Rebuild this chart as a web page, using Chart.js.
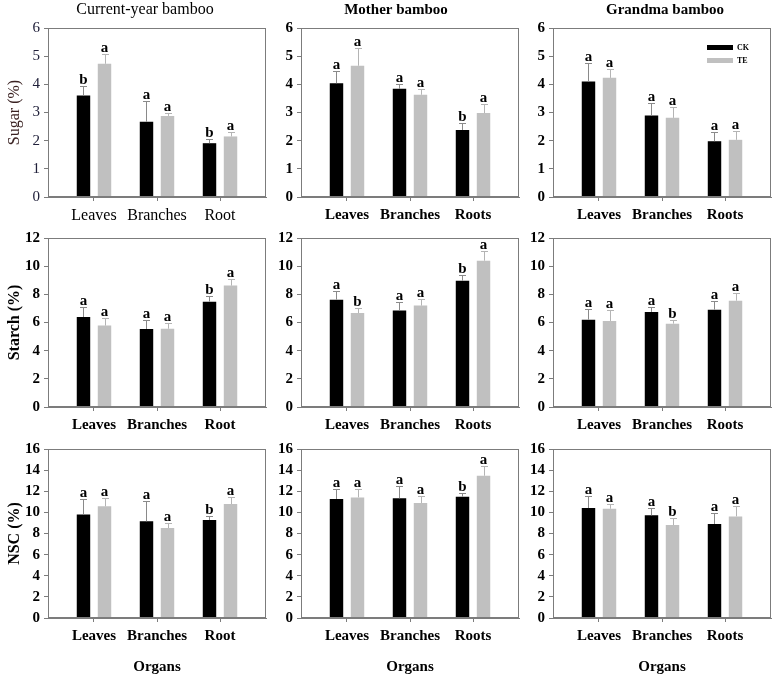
<!DOCTYPE html>
<html><head><meta charset="utf-8">
<script src="https://cdn.jsdelivr.net/npm/chart.js@4"></script>
<style>
html,body{margin:0;padding:0;background:#fff;}
#wrap{position:relative;width:774px;height:678px;overflow:hidden;background:#fff;}
#wrap canvas{position:absolute;}
</style></head><body><div id="wrap"></div>
<script>
// ---------- data ----------
const organsRoots = ['Leaves','Branches','Roots'];
const organsRoot = ['Leaves','Branches','Root'];
const seriesNames = ['CK','TE'];
const groupTitles = ['Current-year bamboo','Mother bamboo','Grandma bamboo'];
const rowTitles = ['Sugar (%)','Starch (%)','NSC (%)'];
const xTitle = 'Organs';
const yMax = [6, 12, 16];
const yStep = [1, 2, 2];

// Sugar
const sugarCurrentCK = [3.60, 2.67, 1.91], sugarCurrentCKse = [0.34, 0.75, 0.14], sugarCurrentCKsig = ['b','a','b'];
const sugarCurrentTE = [4.73, 2.88, 2.15], sugarCurrentTEse = [0.36, 0.12, 0.16], sugarCurrentTEsig = ['a','a','a'];
const sugarMotherCK = [4.04, 3.84, 2.38], sugarMotherCKse = [0.45, 0.18, 0.26], sugarMotherCKsig = ['a','a','b'];
const sugarMotherTE = [4.66, 3.63, 2.98], sugarMotherTEse = [0.63, 0.20, 0.32], sugarMotherTEsig = ['a','a','a'];
const sugarGrandCK = [4.10, 2.89, 1.98], sugarGrandCKse = [0.66, 0.44, 0.34], sugarGrandCKsig = ['a','a','a'];
const sugarGrandTE = [4.23, 2.81, 2.03], sugarGrandTEse = [0.31, 0.40, 0.33], sugarGrandTEsig = ['a','a','a'];
// Starch
const starchCurrentCK = [6.39, 5.54, 7.48], starchCurrentCKse = [0.71, 0.66, 0.40], starchCurrentCKsig = ['a','a','b'];
const starchCurrentTE = [5.78, 5.56, 8.62], starchCurrentTEse = [0.54, 0.40, 0.47], starchCurrentTEsig = ['a','a','a'];
const starchMotherCK = [7.62, 6.86, 8.97], starchMotherCKse = [0.64, 0.60, 0.43], starchMotherCKsig = ['a','a','b'];
const starchMotherTE = [6.67, 7.20, 10.39], starchMotherTEse = [0.36, 0.47, 0.71], starchMotherTEsig = ['b','a','a'];
const starchGrandCK = [6.20, 6.75, 6.91], starchGrandCKse = [0.76, 0.35, 0.64], starchGrandCKsig = ['a','a','a'];
const starchGrandTE = [6.11, 5.92, 7.55], starchGrandTEse = [0.75, 0.28, 0.54], starchGrandTEsig = ['a','b','a'];
// NSC
const nscCurrentCK = [9.81, 9.15, 9.28], nscCurrentCKse = [1.46, 1.89, 0.41], nscCurrentCKsig = ['a','a','b'];
const nscCurrentTE = [10.57, 8.52, 10.79], nscCurrentTEse = [0.79, 0.47, 0.66], nscCurrentTEsig = ['a','a','a'];
const nscMotherCK = [11.27, 11.33, 11.49], nscMotherCKse = [0.94, 1.20, 0.34], nscMotherCKsig = ['a','a','b'];
const nscMotherTE = [11.42, 10.89, 13.47], nscMotherTEse = [0.79, 0.69, 0.95], nscMotherTEsig = ['a','a','a'];
const nscGrandCK = [10.41, 9.72, 8.90], nscGrandCKse = [1.11, 0.69, 1.04], nscGrandCKsig = ['a','a','a'];
const nscGrandTE = [10.35, 8.80, 9.62], nscGrandTEse = [0.47, 0.67, 0.95], nscGrandTEsig = ['a','b','a'];

// ---------- layout / style ----------
const FONT = "'Liberation Serif', 'Times New Roman', serif";
const AXIS = '#7c7c7c';
const COLORS = ['#000000', '#c0c0c0'];
const ERRCOLORS = ['#8a8a8a', '#b4b4b4'];
const COL_LEFT = [0, 253, 505];
const ROW_TOP = [0, 210, 421];
const TITLE_DX = [97, 95, 112];

const panels = [
  [[sugarCurrentCK,sugarCurrentCKse,sugarCurrentCKsig,sugarCurrentTE,sugarCurrentTEse,sugarCurrentTEsig,organsRoot],
   [sugarMotherCK,sugarMotherCKse,sugarMotherCKsig,sugarMotherTE,sugarMotherTEse,sugarMotherTEsig,organsRoots],
   [sugarGrandCK,sugarGrandCKse,sugarGrandCKsig,sugarGrandTE,sugarGrandTEse,sugarGrandTEsig,organsRoots]],
  [[starchCurrentCK,starchCurrentCKse,starchCurrentCKsig,starchCurrentTE,starchCurrentTEse,starchCurrentTEsig,organsRoot],
   [starchMotherCK,starchMotherCKse,starchMotherCKsig,starchMotherTE,starchMotherTEse,starchMotherTEsig,organsRoots],
   [starchGrandCK,starchGrandCKse,starchGrandCKsig,starchGrandTE,starchGrandTEse,starchGrandTEsig,organsRoots]],
  [[nscCurrentCK,nscCurrentCKse,nscCurrentCKsig,nscCurrentTE,nscCurrentTEse,nscCurrentTEsig,organsRoot],
   [nscMotherCK,nscMotherCKse,nscMotherCKsig,nscMotherTE,nscMotherTEse,nscMotherTEsig,organsRoots],
   [nscGrandCK,nscGrandCKse,nscGrandCKsig,nscGrandTE,nscGrandTEse,nscGrandTEsig,organsRoots]]
];

const panelPlugin = {
  id: 'panelExtras',
  afterDatasetsDraw(chart) {
    const ctx = chart.ctx, ys = chart.scales.y;
    chart.data.datasets.forEach((ds, di) => {
      const meta = chart.getDatasetMeta(di);
      meta.data.forEach((bar, i) => {
        const v = ds.data[i].y, e = ds.err[i];
        const top = Math.round(ys.getPixelForValue(v + e)) + 0.5;
        const x = Math.round(bar.x) + 0.5;
        ctx.save();
        ctx.strokeStyle = ds.errColor; ctx.lineWidth = 1;
        ctx.beginPath();
        ctx.moveTo(x, bar.y); ctx.lineTo(x, top);
        ctx.moveTo(x - 3.5, top); ctx.lineTo(x + 3.5, top);
        ctx.stroke();
        ctx.fillStyle = '#000';
        ctx.font = 'bold 15px ' + FONT;
        ctx.textAlign = 'center'; ctx.textBaseline = 'alphabetic';
        ctx.fillText(ds.sig[i], bar.x, top - 3);
        ctx.restore();
      });
    });
  },
  afterDraw(chart, args, opts) {
    const ctx = chart.ctx, a = chart.chartArea;
    ctx.save();
    ctx.strokeStyle = AXIS; ctx.lineWidth = 1;
    ctx.strokeRect(Math.round(a.left) + 0.5, Math.round(a.top) + 0.5, Math.round(a.right - a.left) - 1, Math.round(a.bottom - a.top) - 1);
    if (opts.title) {
      ctx.fillStyle = '#000';
      ctx.font = (opts.weight === 'bold' ? 'bold 15px ' : '16px ') + FONT;
      ctx.textAlign = 'center'; ctx.textBaseline = 'middle';
      ctx.fillText(opts.title, a.left + opts.dx, a.top - 18);
    }
    if (opts.legend) {
      chart.data.datasets.forEach((ds, di) => {
        const y0 = a.top + 17 + di * 13;
        ctx.fillStyle = ds.backgroundColor;
        ctx.fillRect(a.right - 64, y0, 26, 5);
        ctx.fillStyle = '#000';
        ctx.font = 'bold 8px ' + FONT;
        ctx.textAlign = 'left'; ctx.textBaseline = 'middle';
        ctx.fillText(ds.label, a.right - 34, y0 + 3);
      });
    }
    ctx.restore();
  }
};

const wrap = document.getElementById('wrap');
for (let r = 0; r < 3; r++) {
  for (let c = 0; c < 3; c++) {
    const p = panels[r][c];
    const plain = (r === 0 && c === 0);
    const weight = plain ? 'normal' : 'bold';
    const xh = r === 2 ? 58 : 30;
    const W = 270, H = 28 + 169 + xh;
    const canvas = document.createElement('canvas');
    canvas.width = W; canvas.height = H;
    canvas.style.left = COL_LEFT[c] + 'px';
    canvas.style.top = ROW_TOP[r] + 'px';
    canvas.style.width = W + 'px'; canvas.style.height = H + 'px';
    wrap.appendChild(canvas);
    const labels = p[6];
    new Chart(canvas, {
      type: 'bar',
      data: {
        datasets: [0, 1].map(s => ({
          label: seriesNames[s],
          data: p[s * 3].map((v, i) => ({ x: i + 1, y: v })),
          err: p[s * 3 + 1],
          sig: p[s * 3 + 2],
          backgroundColor: COLORS[s],
          errColor: ERRCOLORS[s],
          borderWidth: 0
        }))
      },
      options: {
        responsive: false, animation: false, devicePixelRatio: 1,
        categoryPercentage: 0.667, barPercentage: 0.64,
        layout: { padding: { top: 28, right: 4, left: 0, bottom: 0 } },
        plugins: {
          legend: { display: false }, tooltip: { enabled: false }, title: { display: false },
          panelExtras: { title: r === 0 ? groupTitles[c] : null, dx: TITLE_DX[c], weight: weight, legend: (r === 0 && c === 2) }
        },
        scales: {
          x: {
            type: 'linear', min: 0.27, max: 3.73, offset: false,
            afterBuildTicks: s => { s.ticks = [1, 2, 3].map(v => ({ value: v })); },
            afterFit: s => { s.height = xh; },
            ticks: { callback: v => labels[v - 1], font: { family: FONT, size: plain ? 16 : 15, weight: weight }, color: '#000', padding: 5, maxRotation: 0, autoSkip: false },
            grid: { offset: false, drawOnChartArea: false, drawTicks: true, tickLength: 4, color: AXIS },
            border: { display: true, color: AXIS },
            title: { display: r === 2, text: xTitle, font: { family: FONT, size: 15, weight: 'bold' }, color: '#000', padding: { top: 0, bottom: 0 } }
          },
          y: {
            min: 0, max: yMax[r],
            afterFit: s => { s.width = 48; },
            ticks: { stepSize: yStep[r], font: { family: FONT, size: 15, weight: weight }, color: plain ? '#20203a' : '#000', padding: 4 },
            grid: { drawOnChartArea: false, drawTicks: true, tickLength: 4, color: AXIS },
            border: { display: true, color: AXIS },
            title: { display: c === 0, text: rowTitles[r], font: { family: FONT, size: 16, weight: weight }, color: plain ? '#3a2222' : '#000', padding: { top: 5, bottom: 0 } }
          }
        }
      },
      plugins: [panelPlugin]
    });
  }
}
</script></body></html>
